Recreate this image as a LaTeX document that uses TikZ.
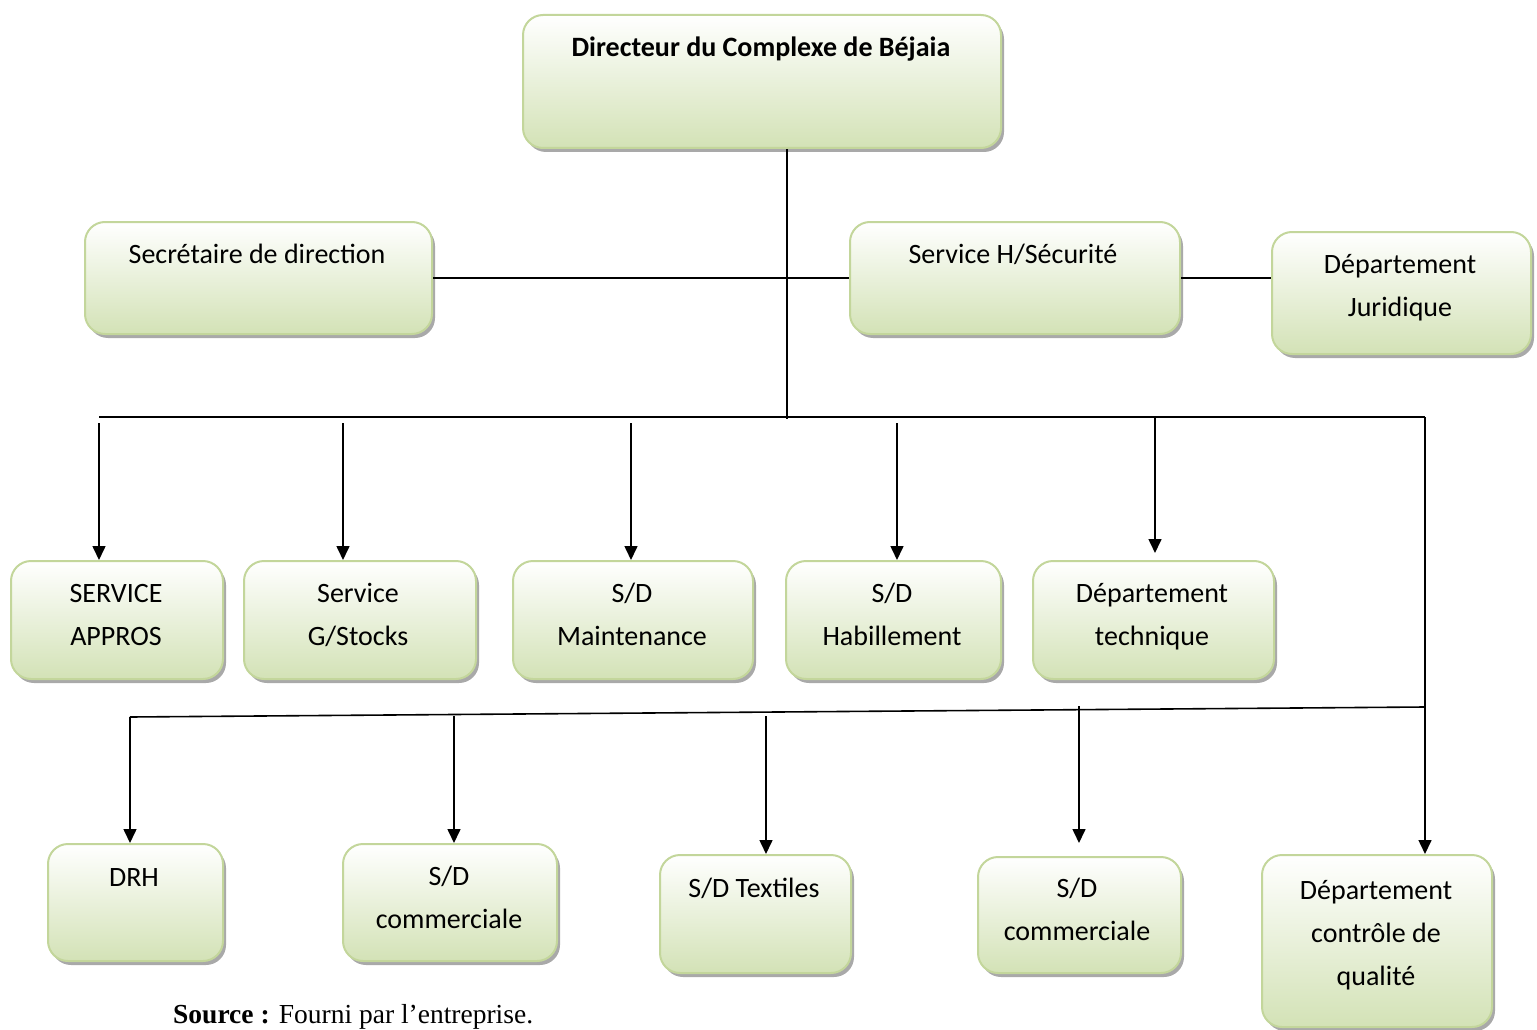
\documentclass[tikz,border=0pt]{standalone}
\usepackage{fontspec}
\setmainfont{Carlito}
\newfontfamily\srcfont{Liberation Serif}
\usetikzlibrary{shadows,arrows.meta}
\definecolor{boxline}{HTML}{C3D69B}
\definecolor{boxfill}{HTML}{D3E2B6}
% strut that centres each text line visually on its node
\newcommand\ls{\rule[-11pt]{0pt}{40pt}}
\tikzset{
  orgbox/.style={draw=boxline, line width=2pt, rounded corners=20pt,
    top color=white, bottom color=boxfill, inner sep=0pt,
    drop shadow={shadow xshift=3pt, shadow yshift=-4pt, fill=black!45, opacity=.75}},
  lbl/.style={font=\fontsize{28}{43}\selectfont, align=center, inner sep=0pt},
  link/.style={line width=1.6pt, black},
  arr/.style={link, -{Triangle[length=14pt,width=13pt]}},
}
\begin{document}
\begin{tikzpicture}[x=1pt,y=-1pt]
\useasboundingbox (0,0) rectangle (1537,1030);

% boxes
\node[orgbox, minimum width=478pt, minimum height=133pt, anchor=north west] (dir)    at (522,14)  {};
\node[orgbox, minimum width=347pt, minimum height=112pt, anchor=north west] (secr)   at (84,221)  {};
\node[orgbox, minimum width=330pt, minimum height=112pt, anchor=north west] (hsec)   at (849,221) {};
\node[orgbox, minimum width=259pt, minimum height=122pt, anchor=north west] (jur)    at (1271,231) {};
\node[orgbox, minimum width=212pt, minimum height=118pt, anchor=north west] (appros) at (10,560)  {};
\node[orgbox, minimum width=232pt, minimum height=118pt, anchor=north west] (stocks) at (243,560) {};
\node[orgbox, minimum width=240pt, minimum height=118pt, anchor=north west] (maint)  at (512,560) {};
\node[orgbox, minimum width=215pt, minimum height=118pt, anchor=north west] (habil)  at (785,560) {};
\node[orgbox, minimum width=241pt, minimum height=118pt, anchor=north west] (tech)   at (1032,560) {};
\node[orgbox, minimum width=175pt, minimum height=117pt, anchor=north west] (drh)    at (47,843)  {};
\node[orgbox, minimum width=214pt, minimum height=117pt, anchor=north west] (com1)   at (342,843) {};
\node[orgbox, minimum width=191pt, minimum height=118pt, anchor=north west] (text)   at (659,854) {};
\node[orgbox, minimum width=203pt, minimum height=116pt, anchor=north west] (com2)   at (977,856) {};
\node[orgbox, minimum width=230pt, minimum height=172pt, anchor=north west] (qual)   at (1261,854) {};

% labels
\node[lbl, font=\fontsize{28}{43}\selectfont\bfseries] (dirT) at (761,48) {\ls Directeur du Complexe de Béjaia};
\node[lbl] (secrT)   at (257,254)    {\ls Secrétaire de direction};
\node[lbl] (hsecT)   at (1013,254)   {\ls Service H/Sécurité};
\node[lbl] (jurT)    at (1400,285.5) {\ls Département\\\ls Juridique};
\node[lbl] (approsT) at (116,614.5)  {\ls SERVICE\\\ls APPROS};
\node[lbl] (stocksT) at (358,614.5)  {\ls Service\\\ls G/Stocks};
\node[lbl] (maintT)  at (632,614.5)  {\ls S/D\\\ls Maintenance};
\node[lbl] (habilT)  at (892,614.5)  {\ls S/D\\\ls Habillement};
\node[lbl] (techT)   at (1152,614.5) {\ls Département\\\ls technique};
\node[lbl] (drhT)    at (134,877)    {\ls DRH};
\node[lbl] (com1T)   at (449,897.5)  {\ls S/D\\\ls commerciale};
\node[lbl] (textT)   at (754,888)    {\ls S/D Textiles};
\node[lbl] (com2T)   at (1077,910)   {\ls S/D\\\ls commerciale};
\node[lbl] (qualT)   at (1376,933)   {\ls Département\\\ls contrôle de\\\ls qualité};

% junction points
\coordinate (hub)  at (787,419);
\coordinate (busL) at (99,417);
\coordinate (busR) at (1425,417);
\coordinate (a1) at (99,423);
\coordinate (a2) at (343,423);
\coordinate (a3) at (631,423);
\coordinate (a4) at (897,423);
\coordinate (a5) at (1155,417);
\coordinate (b1) at (1425,707);
\coordinate (b2) at (130,717);
\coordinate (c2) at (454,716);
\coordinate (c3) at (766,716);
\coordinate (c4) at (1079,706);

% connectors
\draw[link] (dir.south -| hub) -- (hub);
\draw[link] (secr.east) -- (hsec.west);
\draw[link] (hsec.east) -- (hsec.east -| jur.west);
\draw[link] (busL) -- (busR);
\draw[arr] (a1) -- (a1 |- appros.north);
\draw[arr] (a2) -- (a2 |- stocks.north);
\draw[arr] (a3) -- (a3 |- maint.north);
\draw[arr] (a4) -- (a4 |- habil.north);
\draw[arr, shorten >=7pt] (a5) -- (a5 |- tech.north);
\draw[arr] (busR) -- (busR |- qual.north);
\draw[link] (b1) -- (b2);
\draw[arr] (b2) -- (b2 |- drh.north);
\draw[arr] (c2) -- (c2 |- com1.north);
\draw[arr] (c3) -- (c3 |- text.north);
\draw[arr, shorten >=13pt] (c4) -- (c4 |- com2.north);

% source line
\node[anchor=west, inner sep=0pt, font=\srcfont\fontsize{27.5}{30}\selectfont] (src) at (173,1017)
  {\textbf{Source :} Fourni par l’entreprise.};
\end{tikzpicture}
\end{document}
